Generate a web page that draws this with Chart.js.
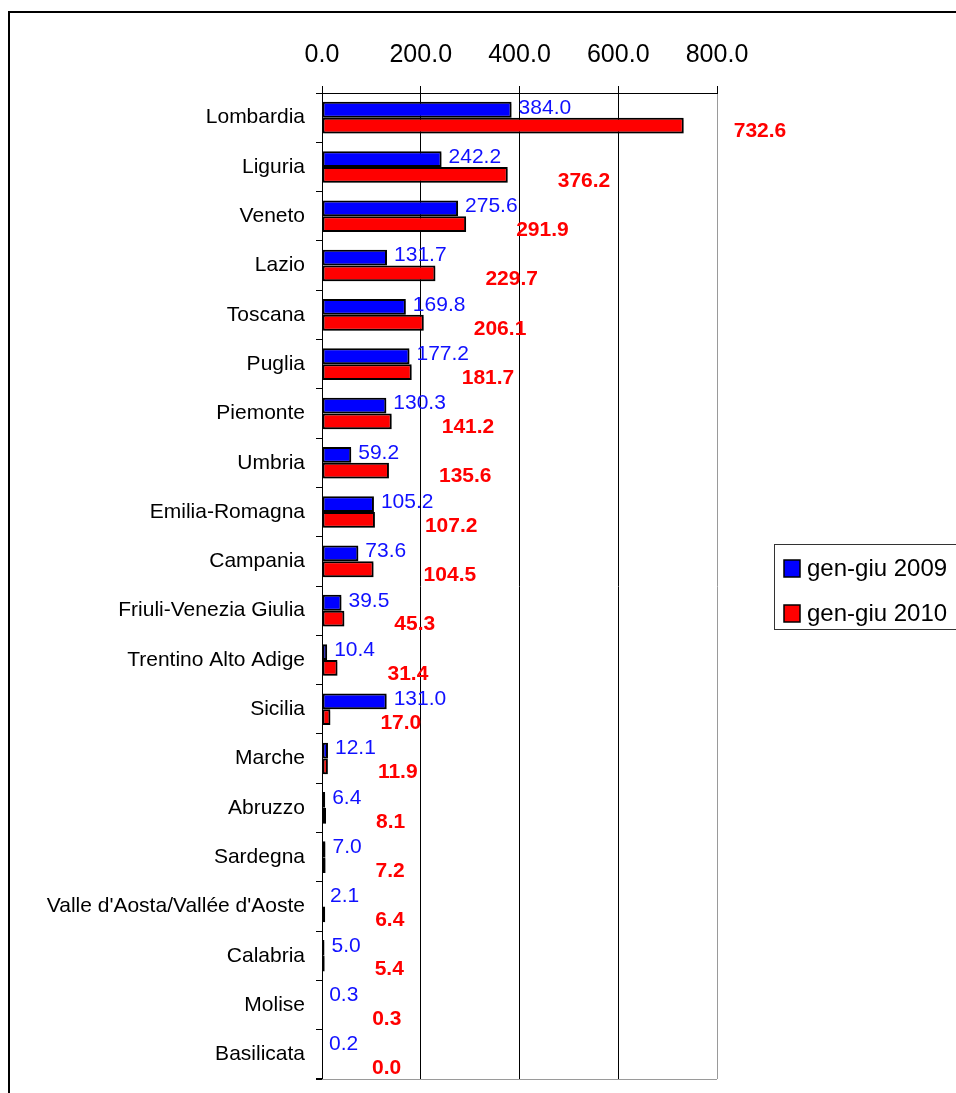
<!DOCTYPE html>
<html lang="it">
<head>
  <meta charset="UTF-8" />
  <title>Regioni gen-giu 2009 / 2010</title>
  <script src="https://cdn.jsdelivr.net/npm/chart.js"></script>
  <style>
    body {
      margin: 0;
      background: #fff;
      overflow: hidden;
    }
    canvas {
      display: block;
    }
  </style>
</head>
<body>
  <canvas id="regionChart" width="956" height="1093"></canvas>

  <script>
    const regions = [
      'Lombardia', 'Liguria', 'Veneto', 'Lazio', 'Toscana', 'Puglia', 'Piemonte',
      'Umbria', 'Emilia-Romagna', 'Campania', 'Friuli-Venezia Giulia',
      'Trentino Alto Adige', 'Sicilia', 'Marche', 'Abruzzo', 'Sardegna',
      "Valle d'Aosta/Vallée d'Aoste", 'Calabria', 'Molise', 'Basilicata'
    ];
    const values2009 = [384.0, 242.2, 275.6, 131.7, 169.8, 177.2, 130.3, 59.2, 105.2, 73.6,
                        39.5, 10.4, 131.0, 12.1, 6.4, 7.0, 2.1, 5.0, 0.3, 0.2];
    const values2010 = [732.6, 376.2, 291.9, 229.7, 206.1, 181.7, 141.2, 135.6, 107.2, 104.5,
                        45.3, 31.4, 17.0, 11.9, 8.1, 7.2, 6.4, 5.4, 0.3, 0.0];
    const seriesNames = ['gen-giu 2009', 'gen-giu 2010'];
    const xTicks = [0, 200, 400, 600, 800];

    const FONT = "'Liberation Sans', Arial, sans-serif";

    // outer frame, plot border and legend box
    const decorations = {
      id: 'decorations',
      beforeDraw(chart) {
        const ctx = chart.ctx;
        ctx.save();
        ctx.strokeStyle = '#000';
        ctx.lineWidth = 2;
        ctx.strokeRect(9, 12, 1000, 1200);
        ctx.restore();
      },
      afterDraw(chart) {
        const ctx = chart.ctx;
        const area = chart.chartArea;
        const bottom = Math.round(area.bottom) + 0.5;
        ctx.save();
        ctx.strokeStyle = '#9a9a9a';
        ctx.lineWidth = 1;
        ctx.beginPath();
        ctx.moveTo(area.left, bottom);
        ctx.lineTo(area.right, bottom);
        ctx.stroke();

        // closing tick at the foot of the category axis
        ctx.strokeStyle = '#000';
        ctx.beginPath();
        ctx.moveTo(area.left - 6, bottom);
        ctx.lineTo(area.left, bottom);
        ctx.stroke();

        // legend
        ctx.strokeStyle = '#333';
        ctx.strokeRect(774.5, 544.5, 260, 85);
        ctx.font = '24px ' + FONT;
        ctx.textBaseline = 'middle';
        ctx.textAlign = 'left';
        chart.data.datasets.forEach((ds, i) => {
          const y = 568 + i * 45;
          ctx.fillStyle = ds.backgroundColor;
          ctx.fillRect(784, y - 8, 16, 17);
          ctx.strokeStyle = '#000';
          ctx.lineWidth = 1.5;
          ctx.strokeRect(784, y - 8, 16, 17);
          ctx.fillStyle = '#000';
          ctx.fillText(ds.label, 807, y + 1);
        });
        ctx.restore();
      }
    };

    // grey shadow under the bars
    const barShadow = {
      id: 'barShadow',
      beforeDatasetsDraw(chart) {
        const ctx = chart.ctx;
        ctx.save();
        ctx.shadowColor = 'rgba(0,0,0,0.22)';
        ctx.shadowOffsetX = 2;
        ctx.shadowOffsetY = 2;
        ctx.shadowBlur = 0;
      },
      afterDatasetsDraw(chart) {
        chart.ctx.restore();
      }
    };

    // value labels next to the bars
    const valueLabels = {
      id: 'valueLabels',
      afterDatasetsDraw(chart) {
        const ctx = chart.ctx;
        ctx.save();
        ctx.textAlign = 'left';
        ctx.textBaseline = 'middle';
        chart.data.datasets.forEach((ds, di) => {
          const meta = chart.getDatasetMeta(di);
          meta.data.forEach((bar, i) => {
            const text = ds.data[i].toFixed(1);
            if (di === 0) {
              ctx.font = '21px ' + FONT;
              ctx.fillStyle = '#1010ff';
              ctx.fillText(text, bar.x + 7, bar.y - 2);
            } else {
              ctx.font = 'bold 21px ' + FONT;
              ctx.fillStyle = '#ff0000';
              ctx.fillText(text, bar.x + 50, bar.y + 6);
            }
          });
        });
        ctx.restore();
      }
    };

    new Chart(document.getElementById('regionChart'), {
      type: 'bar',
      data: {
        labels: regions,
        datasets: [
          {
            label: seriesNames[0],
            data: values2009,
            backgroundColor: '#0000ff',
            borderColor: '#000',
            borderWidth: 2,
            borderSkipped: false
          },
          {
            label: seriesNames[1],
            data: values2010,
            backgroundColor: '#ff0000',
            borderColor: '#000',
            borderWidth: 2,
            borderSkipped: false
          }
        ]
      },
      options: {
        indexAxis: 'y',
        responsive: false,
        animation: false,
        devicePixelRatio: 1,
        layout: { padding: { left: 0, top: 0, right: 239, bottom: 14 } },
        datasets: {
          bar: { categoryPercentage: 0.64, barPercentage: 1 }
        },
        plugins: {
          legend: { display: false },
          tooltip: { enabled: false }
        },
        scales: {
          x: {
            position: 'top',
            min: 0,
            max: 800,
            afterBuildTicks(scale) {
              scale.ticks = xTicks.map(v => ({ value: v }));
            },
            afterFit(scale) {
              scale.height = 93;
            },
            ticks: {
              callback: v => v.toFixed(1),
              font: { family: FONT, size: 25 },
              color: '#000',
              padding: 16,
              maxRotation: 0
            },
            grid: {
              color: c => (c.tick && c.tick.value === 800 ? '#9a9a9a' : '#000'),
              lineWidth: 1,
              tickLength: 7,
              tickColor: '#000'
            },
            border: { color: '#000', width: 1 }
          },
          y: {
            afterFit(scale) {
              scale.width = 322;
              scale.paddingTop = 0;
              scale.paddingBottom = 0;
            },
            ticks: {
              font: { family: FONT, size: 21 },
              color: '#000',
              padding: 11,
              autoSkip: false
            },
            grid: {
              drawOnChartArea: false,
              offset: true,
              tickLength: 6,
              tickColor: '#000'
            },
            border: { color: '#000', width: 1 }
          }
        }
      },
      plugins: [decorations, barShadow, valueLabels]
    });
  </script>
</body>
</html>
